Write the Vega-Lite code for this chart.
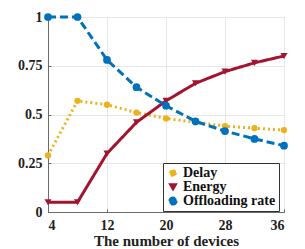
{
  "$schema": "https://vega.github.io/schema/vega-lite/v6.json",
  "width": 236,
  "height": 195,
  "autosize": {"type": "none"},
  "padding": {"left": 48, "top": 17, "right": 21, "bottom": 37},
  "background": "white",
  "config": {
    "font": "Liberation Serif",
    "view": {"stroke": "#6b6b6b", "strokeWidth": 1},
    "legend": {
      "labelFont": "Liberation Serif", "labelFontSize": 14, "labelFontWeight": "bold", "labelColor": "#111"
    }
  },
  "data": {
    "values": [
      {"n": 4, "series": "Delay", "v": 0.29},
      {"n": 8, "series": "Delay", "v": 0.57},
      {"n": 12, "series": "Delay", "v": 0.55},
      {"n": 16, "series": "Delay", "v": 0.51},
      {"n": 20, "series": "Delay", "v": 0.48},
      {"n": 24, "series": "Delay", "v": 0.46},
      {"n": 28, "series": "Delay", "v": 0.44},
      {"n": 32, "series": "Delay", "v": 0.43},
      {"n": 36, "series": "Delay", "v": 0.42},
      {"n": 4, "series": "Energy", "v": 0.05},
      {"n": 8, "series": "Energy", "v": 0.05},
      {"n": 12, "series": "Energy", "v": 0.3},
      {"n": 16, "series": "Energy", "v": 0.46},
      {"n": 20, "series": "Energy", "v": 0.57},
      {"n": 24, "series": "Energy", "v": 0.66},
      {"n": 28, "series": "Energy", "v": 0.72},
      {"n": 32, "series": "Energy", "v": 0.765},
      {"n": 36, "series": "Energy", "v": 0.8},
      {"n": 4, "series": "Offloading rate", "v": 1.0},
      {"n": 8, "series": "Offloading rate", "v": 1.0},
      {"n": 12, "series": "Offloading rate", "v": 0.78},
      {"n": 16, "series": "Offloading rate", "v": 0.64},
      {"n": 20, "series": "Offloading rate", "v": 0.545},
      {"n": 24, "series": "Offloading rate", "v": 0.465},
      {"n": 28, "series": "Offloading rate", "v": 0.415},
      {"n": 32, "series": "Offloading rate", "v": 0.375},
      {"n": 36, "series": "Offloading rate", "v": 0.34}
    ]
  },
  "encoding": {
    "x": {
      "field": "n", "type": "quantitative",
      "scale": {"domain": [4, 36], "nice": false, "zero": false},
      "axis": {
        "values": [4, 12, 20, 28, 36],
        "title": "The number of devices",
        "titleFont": "Liberation Serif", "titleFontSize": 15, "titleFontWeight": "bold", "titleColor": "#222",
        "titlePadding": 1,
        "labelFont": "Liberation Serif", "labelFontSize": 14, "labelFontWeight": "bold", "labelColor": "#222",
        "labelPadding": 9,
        "domainColor": "#6b6b6b", "tickColor": "#6b6b6b", "tickSize": -3,
        "gridColor": "#e6e6e6"
      }
    },
    "y": {
      "field": "v", "type": "quantitative",
      "scale": {"domain": [0, 1], "nice": false},
      "axis": {
        "values": [0, 0.25, 0.5, 0.75, 1],
        "format": ".2~f",
        "title": null,
        "labelFont": "Liberation Serif", "labelFontSize": 14, "labelFontWeight": "bold", "labelColor": "#222",
        "labelPadding": 9,
        "domainColor": "#6b6b6b", "tickColor": "#6b6b6b", "tickSize": -3,
        "gridColor": "#e6e6e6"
      }
    },
    "color": {
      "field": "series", "type": "nominal",
      "scale": {"domain": ["Delay", "Energy", "Offloading rate"], "range": ["#EDB120", "#A2142F", "#0072BD"]},
      "legend": {
        "orient": "none", "legendX": 115, "legendY": 146, "title": null,
        "fillColor": "white", "strokeColor": "#333", "padding": 3,
        "labelFont": "Liberation Serif", "labelFontSize": 14, "labelFontWeight": "bold", "labelColor": "#111",
        "symbolSize": 60, "rowPadding": 0, "labelOffset": 3
      }
    }
  },
  "layer": [
    {
      "mark": {"type": "line", "strokeWidth": 3},
      "encoding": {
        "strokeDash": {
          "field": "series", "type": "nominal",
          "scale": {"domain": ["Delay", "Energy", "Offloading rate"], "range": [[2, 3], [1, 0], [8, 4]]},
          "legend": null
        }
      }
    },
    {
      "mark": {"type": "point", "filled": true, "opacity": 1},
      "encoding": {
        "shape": {
          "field": "series", "type": "nominal",
          "scale": {"domain": ["Delay", "Energy", "Offloading rate"], "range": ["circle", "triangle-down", "circle"]},
          "legend": {
            "orient": "none", "legendX": 115, "legendY": 146, "title": null,
            "fillColor": "white", "strokeColor": "#333", "padding": 3,
            "labelFont": "Liberation Serif", "labelFontSize": 14, "labelFontWeight": "bold", "labelColor": "#111",
            "symbolSize": 60, "rowPadding": 0, "labelOffset": 3
          }
        },
        "size": {
          "field": "series", "type": "nominal",
          "scale": {"domain": ["Delay", "Energy", "Offloading rate"], "range": [40, 60, 14]},
          "legend": null
        }
      }
    }
  ]
}
